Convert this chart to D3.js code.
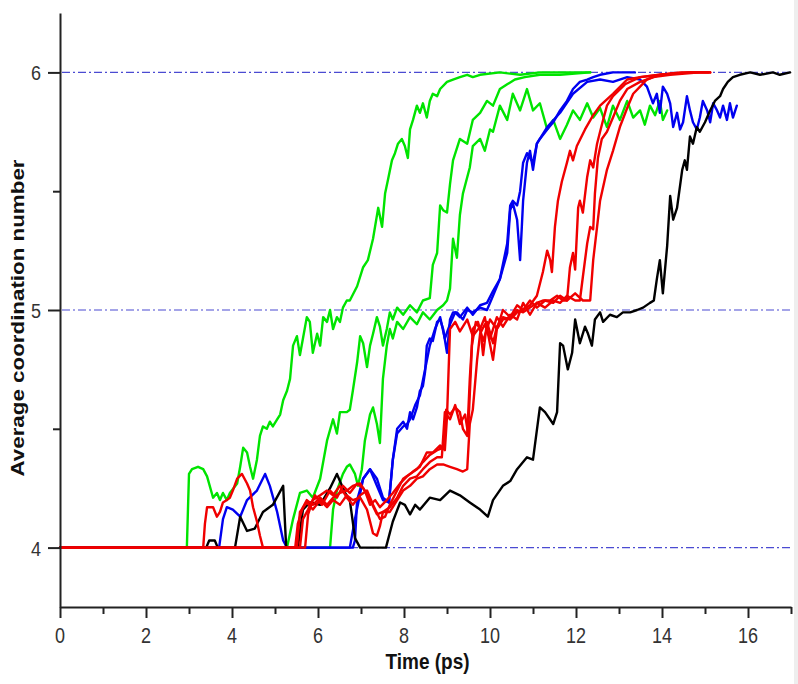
<!DOCTYPE html>
<html><head><meta charset="utf-8">
<script src="https://cdn.jsdelivr.net/npm/d3@7"></script>
<style>body{margin:0;background:#fff}svg{display:block}</style>
</head><body><svg id="c" width="798" height="684"></svg>
<script>
const xTicks=[0,2,4,6,8,10,12,14,16];
const xMinor=[1,3,5,7,9,11,13,15,17];
const yTicks=[4,5,6];
const yMinor=[4.5,5.5];
const refLines=[4,5,6];
const xTitle="Time (ps)";
const yTitle="Average coordination number";

const green1=[[0,4],[2.95,4],[3.00,4.31],[3.07,4.33],[3.21,4.34],[3.33,4.33],[3.42,4.30],[3.56,4.21],[3.65,4.23],[3.72,4.20],[3.79,4.23],[3.88,4.20],[3.95,4.23],[4.12,4.27],[4.19,4.34],[4.26,4.42],[4.35,4.40],[4.42,4.34],[4.49,4.29],[4.58,4.37],[4.65,4.47],[4.72,4.51],[4.81,4.50],[4.88,4.53],[4.95,4.51],[5.05,4.54],[5.12,4.56],[5.19,4.62],[5.28,4.66],[5.35,4.71],[5.42,4.85],[5.51,4.89],[5.58,4.81],[5.65,4.88],[5.74,4.97],[5.81,4.95],[5.88,4.82],[5.98,4.90],[6.05,4.85],[6.12,4.97],[6.21,4.95],[6.28,5.00],[6.35,4.92],[6.44,4.97],[6.51,4.95],[6.58,5.01],[6.67,5.04],[6.74,5.04],[6.91,5.10],[7.05,5.18],[7.16,5.21],[7.28,5.30],[7.40,5.43],[7.49,5.35],[7.56,5.49],[7.63,5.55],[7.72,5.63],[7.79,5.66],[7.86,5.70],[7.95,5.72],[8.02,5.69],[8.09,5.64],[8.14,5.76],[8.21,5.80],[8.30,5.86],[8.37,5.83],[8.44,5.87],[8.53,5.81],[8.60,5.88],[8.67,5.91],[8.77,5.90],[8.84,5.93],[9.00,5.96],[9.14,5.97],[9.30,5.98],[9.47,5.99],[9.60,5.98],[9.77,5.99],[10.23,6.00],[10.70,5.99],[11.16,6.00],[11.63,6.00],[12.09,6.00],[12.33,6.00]];
const green2=[[0,4],[5.28,4],[5.42,4.12],[5.58,4.23],[5.74,4.24],[5.88,4.21],[6.05,4.29],[6.21,4.45],[6.35,4.54],[6.44,4.48],[6.51,4.57],[6.67,4.57],[6.74,4.58],[6.81,4.66],[6.91,4.78],[6.98,4.89],[7.05,4.86],[7.14,4.76],[7.21,4.85],[7.28,4.90],[7.37,4.97],[7.44,4.93],[7.51,4.85],[7.60,4.92],[7.67,4.99],[7.74,4.96],[7.84,5.01],[7.98,4.98],[8.14,5.02],[8.30,4.99],[8.44,5.04],[8.60,5.05],[8.67,5.19],[8.77,5.24],[8.84,5.44],[8.91,5.42],[9.00,5.41],[9.07,5.53],[9.14,5.63],[9.30,5.72],[9.47,5.70],[9.60,5.80],[9.77,5.83],[9.93,5.88],[10.07,5.86],[10.23,5.93],[10.40,5.95],[10.58,5.97],[10.81,5.98],[11.16,5.99],[11.63,5.99],[12.33,6.00]];
const green3=[[0,4],[6.28,4],[6.35,4.16],[6.44,4.24],[6.58,4.31],[6.67,4.34],[6.74,4.35],[6.86,4.31],[6.93,4.26],[7.02,4.33],[7.09,4.45],[7.21,4.56],[7.28,4.59],[7.37,4.52],[7.44,4.44],[7.51,4.71],[7.60,4.85],[7.67,4.92],[7.74,4.88],[7.84,4.95],[7.98,4.92],[8.14,4.97],[8.30,4.94],[8.44,4.99],[8.60,4.96],[8.77,5.00],[8.91,5.02],[9.00,5.04],[9.07,5.09],[9.14,5.30],[9.23,5.22],[9.30,5.40],[9.37,5.49],[9.53,5.60],[9.60,5.69],[9.77,5.72],[9.88,5.67],[10.00,5.76],[10.07,5.75],[10.23,5.86],[10.40,5.80],[10.53,5.91],[10.70,5.84],[10.86,5.93],[11.00,5.84],[11.16,5.87],[11.33,5.76],[11.47,5.80],[11.63,5.72],[11.79,5.78],[11.93,5.84],[12.09,5.80],[12.26,5.87],[12.40,5.81],[12.56,5.85],[12.72,5.77],[12.86,5.86],[13.02,5.80],[13.19,5.88],[13.33,5.81],[13.49,5.84],[13.60,5.78],[13.72,5.86],[13.84,5.82],[13.95,5.88],[14.02,5.80],[14.12,5.84]];
const blue1=[[0,4],[3.70,4],[3.79,4.12],[3.88,4.17],[4.02,4.16],[4.19,4.13],[4.35,4.20],[4.58,4.24],[4.77,4.31],[4.88,4.26],[5.05,4.15],[5.19,4.03],[5.28,4.00],[6.81,4.00],[6.86,4.03],[6.91,4.20],[7.05,4.29],[7.21,4.33],[7.37,4.26],[7.51,4.20],[7.65,4.19],[7.74,4.37],[7.84,4.50],[7.98,4.53],[8.07,4.50],[8.14,4.57],[8.21,4.54],[8.30,4.59],[8.37,4.66],[8.44,4.68],[8.49,4.74],[8.53,4.85],[8.60,4.88],[8.67,4.87],[8.77,4.95],[8.84,4.96],[8.91,4.92],[9.00,4.82],[9.07,4.96],[9.14,4.99],[9.23,4.99],[9.37,4.96],[9.47,5.00],[9.60,4.99],[9.77,5.01],[9.93,5.00],[10.07,5.06],[10.23,5.13],[10.40,5.24],[10.47,5.42],[10.53,5.45],[10.63,5.38],[10.70,5.21],[10.74,5.35],[10.77,5.46],[10.86,5.62],[10.93,5.67],[11.00,5.59],[11.09,5.70],[11.16,5.72],[11.33,5.76],[11.47,5.79],[11.63,5.84],[11.79,5.88],[11.93,5.93],[12.09,5.96],[12.26,5.97],[12.40,5.98],[12.56,5.99],[12.86,6.00],[13.37,6.00]];
const blue2=[[0,4],[6.74,4],[6.86,4.12],[7.05,4.29],[7.21,4.33],[7.37,4.29],[7.51,4.21],[7.65,4.19],[7.74,4.37],[7.84,4.48],[7.98,4.51],[8.07,4.52],[8.14,4.54],[8.26,4.60],[8.37,4.64],[8.49,4.75],[8.60,4.85],[8.72,4.92],[8.84,4.97],[8.95,4.88],[9.07,4.94],[9.19,4.99],[9.30,4.97],[9.47,5.01],[9.60,4.98],[9.77,5.02],[9.93,5.03],[10.07,5.08],[10.23,5.13],[10.40,5.28],[10.47,5.44],[10.53,5.46],[10.63,5.44],[10.70,5.50],[10.77,5.62],[10.86,5.66],[11.00,5.62],[11.09,5.70],[11.33,5.77],[11.63,5.83],[11.93,5.91],[12.26,5.96],[12.56,5.97],[12.86,5.96],[13.19,5.98],[13.49,5.97],[13.65,5.94],[13.79,5.87],[13.88,5.91],[13.95,5.83],[14.02,5.94],[14.12,5.91],[14.19,5.87],[14.26,5.77],[14.35,5.83],[14.42,5.76],[14.49,5.79],[14.58,5.90],[14.65,5.84],[14.72,5.79],[14.81,5.76],[14.88,5.81],[14.95,5.88],[15.05,5.84],[15.12,5.79],[15.19,5.87],[15.28,5.84],[15.35,5.81],[15.42,5.86],[15.51,5.80],[15.58,5.87],[15.65,5.81],[15.74,5.86]];
const black1=[[0,4],[3.40,4.00],[3.47,4.03],[3.60,4.03],[3.67,4.00],[4.07,4.00],[4.19,4.13],[4.35,4.07],[4.53,4.08],[4.72,4.15],[4.95,4.18],[5.19,4.26],[5.26,4.00],[5.53,4.00],[5.65,4.16],[5.81,4.19],[6.05,4.18],[6.28,4.25],[6.44,4.31],[6.63,4.23],[6.74,4.20],[6.86,4.04],[6.98,4.00],[7.58,4.00],[7.74,4.11],[7.91,4.19],[8.02,4.18],[8.14,4.14],[8.26,4.18],[8.37,4.16],[8.60,4.21],[8.84,4.20],[9.07,4.24],[9.30,4.22],[9.53,4.19],[9.77,4.16],[9.95,4.13],[10.07,4.20],[10.30,4.26],[10.47,4.28],[10.63,4.33],[10.86,4.38],[11.00,4.37],[11.16,4.59],[11.28,4.57],[11.47,4.52],[11.56,4.57],[11.63,4.86],[11.70,4.85],[11.81,4.75],[11.91,4.82],[11.98,4.96],[12.09,4.86],[12.21,4.93],[12.28,4.90],[12.37,4.85],[12.44,4.96],[12.56,4.99],[12.63,4.95],[12.79,4.98],[12.95,4.97],[13.09,4.99],[13.26,4.99],[13.42,5.00],[13.56,5.01],[13.72,5.03],[13.81,5.04],[13.88,5.13],[13.95,5.21],[14.02,5.07],[14.12,5.27],[14.19,5.48],[14.26,5.38],[14.35,5.43],[14.47,5.59],[14.53,5.63],[14.58,5.59],[14.65,5.73],[14.72,5.70],[14.81,5.77],[14.88,5.75],[15.00,5.79],[15.12,5.84],[15.23,5.88],[15.35,5.90],[15.42,5.93],[15.53,5.96],[15.65,5.98],[15.81,5.99],[16.05,6.00],[16.28,5.99],[16.58,6.00],[16.74,5.99],[16.98,6.00]];
const red1=[[0,4],[3.33,4],[3.37,4.10],[3.42,4.17],[3.56,4.17],[3.65,4.13],[3.72,4.15],[3.79,4.19],[3.88,4.20],[3.95,4.21],[4.02,4.24],[4.12,4.29],[4.23,4.31],[4.35,4.27],[4.42,4.24],[4.49,4.17],[4.58,4.11],[4.65,4.05],[4.72,4.00],[5.47,4.00],[5.53,4.10],[5.65,4.17],[5.74,4.20],[5.88,4.18],[6.05,4.21],[6.21,4.18],[6.35,4.21],[6.51,4.23],[6.67,4.24],[6.81,4.26],[6.98,4.27],[7.09,4.24],[7.21,4.18],[7.33,4.20],[7.44,4.17],[7.60,4.20],[7.74,4.23],[7.91,4.27],[8.07,4.30],[8.21,4.32],[8.37,4.34],[8.53,4.40],[8.67,4.40],[8.84,4.43],[8.95,4.41],[9.00,4.55],[9.07,4.92],[9.19,4.95],[9.30,4.91],[9.47,4.96],[9.60,4.89],[9.77,4.93],[9.84,4.81],[9.93,4.95],[10.07,4.86],[10.16,4.93],[10.30,4.97],[10.47,4.96],[10.63,4.99],[10.77,5.00],[10.93,5.02],[11.09,5.06],[11.23,5.16],[11.33,5.25],[11.40,5.21],[11.44,5.16],[11.51,5.35],[11.58,5.46],[11.67,5.54],[11.79,5.62],[11.86,5.67],[11.93,5.63],[12.02,5.69],[12.21,5.76],[12.40,5.82],[12.56,5.86],[12.86,5.91],[13.19,5.97],[13.49,5.98],[13.95,5.99],[14.42,6.00],[15.07,6.00]];
const red2=[[0,4],[5.51,4],[5.58,4.15],[5.74,4.19],[5.88,4.16],[6.05,4.20],[6.21,4.17],[6.35,4.20],[6.51,4.18],[6.67,4.22],[6.81,4.20],[6.98,4.21],[7.14,4.16],[7.28,4.06],[7.37,4.05],[7.44,4.09],[7.51,4.15],[7.67,4.17],[7.84,4.21],[7.98,4.26],[8.14,4.29],[8.30,4.30],[8.44,4.33],[8.60,4.36],[8.77,4.38],[8.88,4.38],[8.95,4.57],[9.07,4.54],[9.19,4.60],[9.30,4.52],[9.42,4.56],[9.49,4.48],[9.58,4.85],[9.67,4.95],[9.77,4.92],[9.88,4.97],[10.07,4.79],[10.16,4.92],[10.30,4.96],[10.47,4.97],[10.63,5.00],[10.77,4.99],[10.93,5.01],[11.09,5.03],[11.23,5.04],[11.40,5.04],[11.56,5.06],[11.70,5.04],[11.79,5.04],[11.86,5.18],[11.93,5.24],[11.98,5.17],[12.05,5.43],[12.09,5.46],[12.16,5.41],[12.26,5.56],[12.33,5.63],[12.40,5.60],[12.49,5.70],[12.56,5.75],[12.63,5.80],[12.72,5.86],[12.86,5.90],[13.14,5.95],[13.49,5.98],[13.95,5.99],[14.65,6.00],[15.12,6.00]];
const red3=[[0,4],[5.58,4],[5.65,4.12],[5.77,4.16],[5.93,4.22],[6.09,4.18],[6.28,4.24],[6.44,4.21],[6.58,4.26],[6.74,4.23],[6.91,4.27],[7.05,4.25],[7.21,4.20],[7.37,4.14],[7.51,4.15],[7.67,4.15],[7.84,4.20],[7.98,4.24],[8.14,4.26],[8.30,4.29],[8.44,4.30],[8.60,4.33],[8.77,4.35],[8.91,4.35],[9.07,4.34],[9.23,4.33],[9.37,4.32],[9.47,4.33],[9.53,4.52],[9.60,4.58],[9.70,4.79],[9.77,4.90],[9.88,4.94],[10.00,4.88],[10.16,4.97],[10.30,4.93],[10.47,4.98],[10.63,4.96],[10.77,5.03],[10.93,4.98],[11.09,5.03],[11.28,5.01],[11.47,5.04],[11.63,5.03],[11.79,5.06],[11.98,5.04],[12.09,5.04],[12.16,5.14],[12.26,5.28],[12.33,5.35],[12.40,5.34],[12.44,5.49],[12.51,5.64],[12.60,5.72],[12.72,5.75],[12.86,5.81],[13.02,5.88],[13.19,5.93],[13.49,5.96],[13.95,5.99],[14.65,6.00],[15.12,6.00]];
const red4=[[0,4],[5.70,4],[5.77,4.14],[5.88,4.20],[6.05,4.22],[6.21,4.24],[6.35,4.22],[6.51,4.26],[6.67,4.21],[6.81,4.18],[6.98,4.22],[7.14,4.24],[7.28,4.18],[7.44,4.12],[7.56,4.13],[7.67,4.18],[7.84,4.24],[7.98,4.29],[8.14,4.31],[8.30,4.33],[8.44,4.36],[8.60,4.39],[8.77,4.41],[8.91,4.42],[8.98,4.58],[9.07,4.56],[9.19,4.59],[9.30,4.57],[9.37,4.50],[9.47,4.47],[9.53,4.71],[9.60,4.92],[9.72,4.95],[9.84,4.87],[10.00,4.96],[10.16,4.92],[10.30,5.00],[10.47,4.97],[10.63,5.02],[10.77,5.00],[10.93,5.04],[11.09,5.01],[11.28,5.04],[11.47,5.03],[11.63,5.06],[11.79,5.04],[11.98,5.07],[12.16,5.04],[12.33,5.04],[12.40,5.21],[12.49,5.35],[12.56,5.46],[12.72,5.59],[12.86,5.67],[13.02,5.77],[13.19,5.85],[13.33,5.91],[13.49,5.94],[13.65,5.97],[13.79,5.98],[14.19,5.99],[14.88,6.00],[15.12,6.00]];

const GREEN="#00e400", BLUE="#0000f0", BLACK="#000000", RED="#f00000";
const series=[
  {data:green1,color:GREEN},{data:green2,color:GREEN},{data:green3,color:GREEN},
  {data:blue1,color:BLUE},{data:blue2,color:BLUE},
  {data:black1,color:BLACK},
  {data:red1,color:RED},{data:red2,color:RED},{data:red3,color:RED},{data:red4,color:RED}
];

const svg=d3.select("#c");
const x=d3.scaleLinear().domain([0,17]).range([60,791]);
const y=d3.scaleLinear().domain([3.75,6.25]).range([607,13]);

// right-edge grey strip (scan border)
svg.append("rect").attr("x",794).attr("y",0).attr("width",4).attr("height",684).attr("fill","#eeeeee");

// reference lines
svg.append("g").selectAll("line").data(refLines).join("line")
  .attr("x1",x(0)+2).attr("x2",x(17)-1)
  .attr("y1",d=>y(d)).attr("y2",d=>y(d))
  .attr("stroke","#4b4bd2").attr("stroke-width",1.2)
  .attr("stroke-dasharray","8,3,2,3");

// series
const line=d3.line().x(d=>x(d[0])).y(d=>y(d[1]));
svg.append("g").selectAll("path").data(series).join("path")
  .attr("d",d=>line(d.data)).attr("fill","none")
  .attr("stroke",d=>d.color).attr("stroke-width",2.4)
  .attr("stroke-linejoin","round").attr("stroke-linecap","round");

// axes
const axCol="#222";
svg.append("g").attr("transform",`translate(0,${y.range()[0]})`)
  .call(d3.axisBottom(x).tickValues(xTicks).tickSize(11).tickSizeOuter(0).tickFormat(""));
svg.append("g").attr("transform",`translate(0,${y.range()[0]})`)
  .call(d3.axisBottom(x).tickValues(xMinor).tickSize(7).tickSizeOuter(0).tickFormat(""))
  .select(".domain").remove();
svg.append("g").attr("transform",`translate(${x.range()[0]},0)`)
  .call(d3.axisLeft(y).tickValues(yTicks).tickSize(12).tickSizeOuter(0).tickFormat(""));
svg.append("g").attr("transform",`translate(${x.range()[0]},0)`)
  .call(d3.axisLeft(y).tickValues(yMinor).tickSize(7).tickSizeOuter(0).tickFormat(""))
  .select(".domain").remove();
svg.selectAll(".domain").attr("stroke",axCol).attr("stroke-width",2);
svg.selectAll(".tick line").attr("stroke",axCol).attr("stroke-width",2);

const FONT="'Liberation Sans', Arial, sans-serif";
const SY=1.2;
// tick labels
svg.append("g").selectAll("text").data(xTicks).join("text")
  .attr("transform",d=>`translate(${x(d)},643) scale(1,${SY})`)
  .attr("text-anchor","middle").attr("font-family",FONT).attr("font-size",18)
  .attr("fill","#333").text(d=>d);
svg.append("g").selectAll("text").data(yTicks).join("text")
  .attr("transform",d=>`translate(41,${y(d)+8}) scale(1,${SY*0.95})`)
  .attr("text-anchor","end").attr("font-family",FONT).attr("font-size",18)
  .attr("fill","#333").text(d=>d);

// titles
svg.append("text").attr("transform",`translate(${(x(0)+x(17))/2+2},669) scale(1,${SY})`)
  .attr("text-anchor","middle").attr("font-family",FONT).attr("font-size",19)
  .attr("font-weight","bold").attr("fill","#111").text(xTitle);
svg.append("text").attr("transform",`translate(24,318) rotate(-90)`)
  .attr("text-anchor","middle").attr("font-family",FONT).attr("font-size",19)
  .attr("font-weight","bold").attr("fill","#111")
  .attr("textLength",317).attr("lengthAdjust","spacingAndGlyphs").text(yTitle);
</script>
</body></html>
